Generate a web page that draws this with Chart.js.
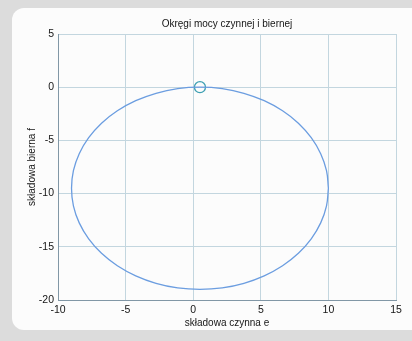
<!DOCTYPE html>
<html lang="pl">
<head>
    <meta charset="UTF-8">
    <title>Okręgi mocy czynnej i biernej</title>
    <style>
        html, body { margin: 0; padding: 0; }
        body { width: 412px; height: 341px; background: #dcdcdc; position: relative; overflow: hidden; }
        .panel { position: absolute; left: 12px; top: 8px; width: 420px; height: 322px; background: #fcfcfc; border-radius: 12px; }
        .chart-box { position: absolute; left: 0; top: 0; width: 412px; height: 341px; }
    </style>
</head>
<body>
    <div class="panel"></div>
    <div class="chart-box">
        <canvas id="circleChart" width="412" height="341"></canvas>
    </div>

    <script src="https://cdn.jsdelivr.net/npm/chart.js"></script>
    <script>
        // values (circle traced every ~10 degrees)
        const eValues = [10.00, 9.86, 9.43, 8.73, 7.78, 6.61, 5.25, 3.75, 2.15, 0.50, -1.15, -2.75, -4.25, -5.61, -6.78, -7.73, -8.43, -8.86,
                         -9.00, -8.86, -8.43, -7.73, -6.78, -5.61, -4.25, -2.75, -1.15, 0.50, 2.15, 3.75, 5.25, 6.61, 7.78, 8.73, 9.43, 9.86, 10.00];
        const fValues = [-9.50, -7.85, -6.25, -4.75, -3.39, -2.22, -1.27, -0.57, -0.14, 0.00, -0.14, -0.57, -1.27, -2.22, -3.39, -4.75, -6.25, -7.85,
                         -9.50, -11.15, -12.75, -14.25, -15.61, -16.78, -17.73, -18.43, -18.86, -19.00, -18.86, -18.43, -17.73, -16.78, -15.61, -14.25, -12.75, -11.15, -9.50];
        const markerE = [0.5];
        const markerF = [0.0];

        const xTicks = [-10, -5, 0, 5, 10, 15];
        const yTicks = [-20, -15, -10, -5, 0, 5];

        const chartTitle = 'Okręgi mocy czynnej i biernej';
        const xTitle = 'składowa czynna e';
        const yTitle = 'składowa bierna f';

        const circlePoints = eValues.map((e, i) => ({ x: e, y: fValues[i] }));
        const markerPoints = markerE.map((e, i) => ({ x: e, y: markerF[i] }));

        const fontFamily = '"Liberation Sans", Arial, sans-serif';
        const textColor = '#151515';
        const gridColor = '#c3d6df';
        const axisColor = '#8197a6';

        // title centred over the plot area, like the original figure
        const plotTitle = {
            id: 'plotTitle',
            afterDraw(chart) {
                const c = chart.ctx;
                const area = chart.chartArea;
                c.save();
                c.font = '10px ' + fontFamily;
                c.fillStyle = textColor;
                c.textAlign = 'center';
                c.textBaseline = 'middle';
                c.fillText(chartTitle, (area.left + area.right) / 2, area.top - 10);
                c.restore();
            }
        };

        const ctx = document.getElementById('circleChart').getContext('2d');
        const chart = new Chart(ctx, {
            type: 'scatter',
            data: {
                datasets: [{
                    data: circlePoints,
                    showLine: true,
                    borderColor: '#6b9de0',
                    borderWidth: 1.3,
                    tension: 0.4,
                    pointRadius: 0,
                    fill: false
                }, {
                    data: markerPoints,
                    showLine: false,
                    pointStyle: 'circle',
                    pointRadius: 5.5,
                    pointBorderWidth: 1.3,
                    pointBorderColor: '#3c9fb2',
                    pointBackgroundColor: 'rgba(0,0,0,0)'
                }]
            },
            options: {
                responsive: false,
                animation: false,
                layout: { padding: { left: 22, right: 16, top: 34, bottom: 8 } },
                plugins: {
                    legend: { display: false },
                    tooltip: { enabled: false },
                    title: { display: false }
                },
                scales: {
                    x: {
                        type: 'linear',
                        min: -10,
                        max: 15,
                        afterBuildTicks: axis => { axis.ticks = xTicks.map(v => ({ value: v })); },
                        afterFit: axis => { axis.height = 33; },
                        grid: { color: gridColor, lineWidth: 1, drawTicks: false },
                        border: { display: true, color: axisColor, width: 1 },
                        ticks: {
                            color: textColor,
                            padding: 4,
                            maxRotation: 0,
                            font: { family: fontFamily, size: 10.5 }
                        },
                        title: {
                            display: true,
                            text: xTitle,
                            color: textColor,
                            padding: { top: 0, bottom: 4 },
                            font: { family: fontFamily, size: 10 }
                        }
                    },
                    y: {
                        type: 'linear',
                        min: -20,
                        max: 5,
                        afterBuildTicks: axis => { axis.ticks = yTicks.map(v => ({ value: v })); },
                        afterFit: axis => { axis.width = 36; },
                        grid: { color: gridColor, lineWidth: 1, drawTicks: false },
                        border: { display: true, color: axisColor, width: 1 },
                        ticks: {
                            color: textColor,
                            padding: 4,
                            font: { family: fontFamily, size: 10.5 }
                        },
                        title: {
                            display: true,
                            text: yTitle,
                            color: textColor,
                            padding: { top: 4, bottom: 0 },
                            font: { family: fontFamily, size: 10 }
                        }
                    }
                }
            },
            plugins: [plotTitle]
        });
    </script>
</body>
</html>
